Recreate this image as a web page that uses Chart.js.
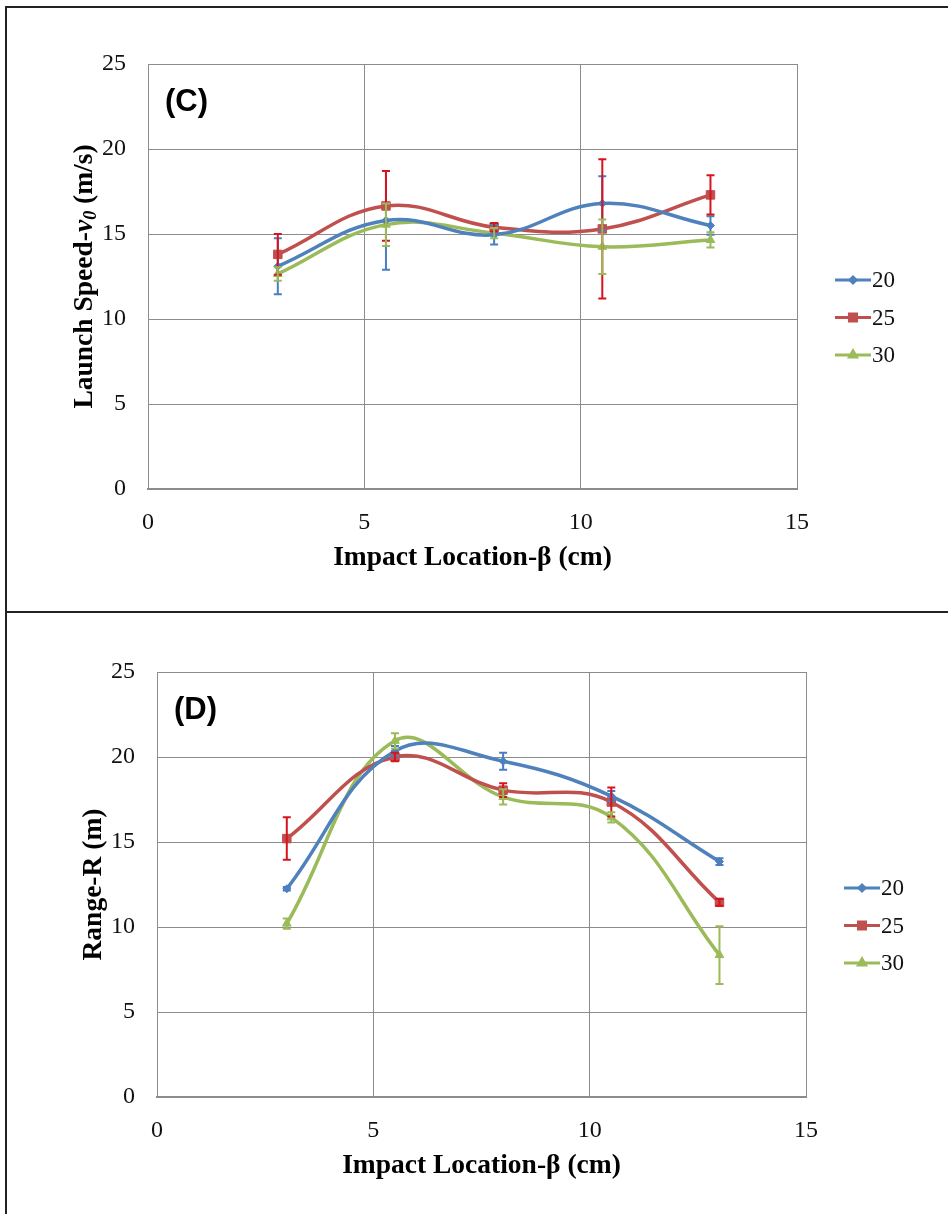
<!DOCTYPE html>
<html>
<head>
<meta charset="utf-8">
<script src="https://cdn.jsdelivr.net/npm/chart.js@4.4.0/dist/chart.umd.min.js"></script>
<style>
  html, body { margin: 0; padding: 0; background: #fff; }
  #page { position: relative; width: 948px; height: 1214px; overflow: hidden; }
  canvas { position: absolute; left: 0; }
  #graphC { top: 0; }
  #graphD { top: 612px; }
  .trait { position: absolute; background: #222; }
</style>
</head>
<body>
<div id="page">
  <canvas id="graphC" width="948" height="611"></canvas>
  <canvas id="graphD" width="948" height="607"></canvas>
  <div class="trait" style="left:5px; top:6px; width:943px; height:2px"></div>
  <div class="trait" style="left:5px; top:6px; width:2px; height:1208px"></div>
  <div class="trait" style="left:5px; top:611px; width:943px; height:2px"></div>
</div>
<script>
// impact locations (cm)
const positions = [3, 5.5, 8, 10.5, 13];
const seriesNames = ['20', '25', '30'];

// launch speed v0 (m/s) and error bars
const speed20 = [13.1, 15.8, 14.95, 16.8, 15.5];
const speed25 = [13.8, 16.65, 15.4, 15.3, 17.3];
const speed30 = [12.65, 15.55, 15.05, 14.25, 14.65];
const errSpeed20 = [1.65, 2.9, 0.57, 1.6, 0.55];
const errSpeed25 = [1.2, 2.05, 0.25, 4.1, 1.15];
const errSpeed30 = [0.4, 1.25, 0.3, 1.6, 0.45];

// range R (m) and error bars
const range20 = [12.25, 20.35, 19.75, 17.7, 13.85];
const range25 = [15.2, 20.0, 18.05, 17.35, 11.45];
const range30 = [10.2, 20.95, 17.65, 16.45, 8.35];
const errRange20 = [0.1, 0.3, 0.5, 0.3, 0.2];
const errRange25 = [1.25, 0.25, 0.4, 0.85, 0.2];
const errRange30 = [0.3, 0.45, 0.45, 0.3, 1.7];

const lineColors = ['#4F81BD', '#C0504D', '#9BBB59'];
const barColors = ['#4A7EC0', '#D7141E', '#9BBB59'];
const markers = [
  { pointStyle: 'rectRot', radius: 4 },
  { pointStyle: 'rect', radius: 6 },
  { pointStyle: 'triangle', radius: 5 }
];

function toPoints(values) {
  return values.map(function (v, i) { return { x: positions[i], y: v }; });
}

function makeDatasets(series, errors) {
  return series.map(function (values, i) {
    return {
      label: seriesNames[i],
      data: toPoints(values),
      errors: errors[i],
      barColor: barColors[i],
      borderColor: lineColors[i],
      backgroundColor: lineColors[i],
      borderWidth: 3.5,
      tension: 0.4,
      pointStyle: markers[i].pointStyle,
      pointRadius: markers[i].radius,
      pointBorderWidth: 1
    };
  });
}

// vertical error bars with caps, drawn over the curves
const errorBars = {
  id: 'errorBars',
  afterDatasetsDraw: function (chart) {
    const ctx = chart.ctx;
    const xs = chart.scales.x, ys = chart.scales.y;
    ctx.save();
    chart.data.datasets.forEach(function (ds) {
      ctx.strokeStyle = ds.barColor;
      ctx.lineWidth = 2;
      ds.data.forEach(function (p, i) {
        const e = ds.errors[i];
        const x = xs.getPixelForValue(p.x);
        const yTop = ys.getPixelForValue(p.y + e);
        const yBot = ys.getPixelForValue(p.y - e);
        ctx.beginPath();
        ctx.moveTo(x, yTop); ctx.lineTo(x, yBot);
        ctx.moveTo(x - 4, yTop); ctx.lineTo(x + 4, yTop);
        ctx.moveTo(x - 4, yBot); ctx.lineTo(x + 4, yBot);
        ctx.stroke();
      });
    });
    ctx.restore();
  }
};

// legend on the right: line + marker + label
const sideLegend = {
  id: 'sideLegend',
  afterDraw: function (chart) {
    const ctx = chart.ctx;
    const area = chart.chartArea;
    const x0 = area.right + 38;
    ctx.save();
    chart.data.datasets.forEach(function (ds, i) {
      const y = area.top + 216 + i * 37.5;
      ctx.strokeStyle = ds.borderColor;
      ctx.lineWidth = 3;
      ctx.beginPath();
      ctx.moveTo(x0, y); ctx.lineTo(x0 + 36, y);
      ctx.stroke();
      ctx.fillStyle = ds.backgroundColor;
      Chart.helpers.drawPoint(ctx, {
        pointStyle: ds.pointStyle, radius: ds.pointRadius - 1, rotation: 0, borderWidth: 1
      }, x0 + 18, y);
      ctx.fill();
      ctx.fillStyle = '#111';
      ctx.font = '23px "Liberation Serif"';
      ctx.textAlign = 'left';
      ctx.textBaseline = 'middle';
      ctx.fillText(ds.label, x0 + 37, y + 1);
    });
    ctx.restore();
  }
};

// panel letter and rotated y title (pieces can have their own font, e.g. italic subscript)
function makePanelText(letter, titleParts) {
  return {
    id: 'panelText',
    afterDraw: function (chart) {
      const ctx = chart.ctx;
      const area = chart.chartArea;
      ctx.save();
      ctx.fillStyle = '#000';
      ctx.font = 'bold 31px "Liberation Sans"';
      ctx.textAlign = 'left';
      ctx.textBaseline = 'middle';
      ctx.fillText(letter, area.left + 17, area.top + 38);

      let total = 0;
      titleParts.forEach(function (part) {
        ctx.font = part.font;
        total += ctx.measureText(part.text).width;
      });
      ctx.translate(area.left - 63, (area.top + area.bottom) / 2);
      ctx.rotate(-Math.PI / 2);
      let x = -total / 2;
      titleParts.forEach(function (part) {
        ctx.font = part.font;
        ctx.fillText(part.text, x, part.shift || 0);
        x += ctx.measureText(part.text).width;
      });
      ctx.restore();
    }
  };
}

function makeChart(id, datasets, panelText, yWidth, padRight, padTop) {
  const ctx = document.getElementById(id).getContext('2d');
  return new Chart(ctx, {
    type: 'line',
    data: { datasets: datasets },
    plugins: [errorBars, sideLegend, panelText],
    options: {
      responsive: false,
      animation: false,
      devicePixelRatio: 1,
      layout: { padding: { left: 0, right: padRight, top: padTop, bottom: 0 } },
      plugins: {
        legend: { display: false },
        tooltip: { enabled: false }
      },
      scales: {
        x: {
          type: 'linear',
          min: 0, max: 15,
          ticks: { stepSize: 5, padding: 19, color: '#111', font: { family: 'Liberation Serif', size: 24 } },
          grid: { color: '#8c8c8c', lineWidth: 1, drawTicks: false },
          border: { color: '#8c8c8c', width: 2 },
          title: {
            display: true,
            text: 'Impact Location-β (cm)',
            color: '#000',
            font: { family: 'Liberation Serif', size: 27.5, weight: 'bold' },
            padding: { top: 37, bottom: 37 }
          },
          afterFit: function (scale) { scale.height = 122; }
        },
        y: {
          min: 0, max: 25,
          ticks: { stepSize: 5, padding: 22, color: '#111', font: { family: 'Liberation Serif', size: 24 } },
          grid: { color: '#8c8c8c', lineWidth: 1, drawTicks: false },
          border: { color: '#8c8c8c', width: 1 },
          afterFit: function (scale) { scale.width = yWidth; }
        }
      }
    }
  });
}

const bold = 'bold 27.5px "Liberation Serif"';

makeChart('graphC',
  makeDatasets([speed20, speed25, speed30], [errSpeed20, errSpeed25, errSpeed30]),
  makePanelText('(C)', [
    { text: 'Launch Speed-', font: bold },
    { text: 'v', font: 'italic bold 27.5px "Liberation Serif"' },
    { text: '0', font: 'italic bold 18px "Liberation Serif"', shift: 6 },
    { text: ' (m/s)', font: bold }
  ]),
  148, 151, 64);

makeChart('graphD',
  makeDatasets([range20, range25, range30], [errRange20, errRange25, errRange30]),
  makePanelText('(D)', [{ text: 'Range-R (m)', font: bold }]),
  157, 142, 60);
</script>
</body>
</html>
